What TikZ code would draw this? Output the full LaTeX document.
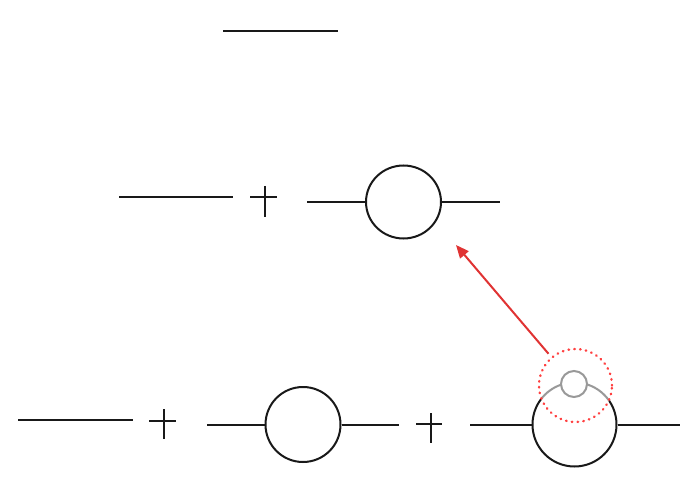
\documentclass[tikz,border=0pt]{standalone}
\usetikzlibrary{arrows.meta,shapes.geometric}
\begin{document}
\begin{tikzpicture}[x=1pt,y=-1pt,
  wire/.style={draw=black!90,line width=2pt},
  loop/.style={draw=black!90,line width=2pt,ellipse,inner sep=0pt},
  smallloop/.style={draw=black!40,line width=2pt,circle,inner sep=0pt,fill=white,minimum size=26pt},
  focus/.style={draw=red!75!white,line width=2.4pt,circle,inner sep=0pt,dash pattern=on 0.6pt off 5.2pt,line cap=round,minimum size=73pt},
  pointer/.style={draw=red!85!black!80!white,line width=2pt,-{Triangle[length=13pt,width=11pt]}}]
\useasboundingbox (0,0) rectangle (698,478);
% top
\coordinate (t1) at (223,31); \coordinate (t2) at (338,31);
\draw[wire] (t1) -- (t2);
% middle row
\coordinate (m1a) at (119,197); \coordinate (m1b) at (233,197);
\draw[wire] (m1a) -- (m1b);
\coordinate (mph1) at (250,197); \coordinate (mph2) at (277,197);
\coordinate (mpv1) at (265,186); \coordinate (mpv2) at (265,217);
\draw[wire] (mph1) -- (mph2); \draw[wire] (mpv1) -- (mpv2);
\node[loop,minimum width=75pt,minimum height=73pt] (mc) at (403.5,202) {};
\coordinate (m2a) at (307,202); \coordinate (m2b) at (500,202);
\draw[wire] (m2a) -- (mc.west); \draw[wire] (mc.east) -- (m2b);
% bottom row
\coordinate (b1a) at (18,420); \coordinate (b1b) at (133,420);
\draw[wire] (b1a) -- (b1b);
\coordinate (bp1h1) at (149,421); \coordinate (bp1h2) at (176,421);
\coordinate (bp1v1) at (164,409); \coordinate (bp1v2) at (164,439);
\draw[wire] (bp1h1) -- (bp1h2); \draw[wire] (bp1v1) -- (bp1v2);
\node[loop,minimum width=75pt,minimum height=75pt] (bc1) at (303,424.5) {};
\coordinate (b2a) at (207,424.5); \coordinate (b2b) at (399,424.5);
\draw[wire] (b2a) -- (bc1.west); \draw[wire] (bc1.east) -- (b2b);
\coordinate (bp2h1) at (416,424); \coordinate (bp2h2) at (442,424);
\coordinate (bp2v1) at (431,413); \coordinate (bp2v2) at (431,443);
\draw[wire] (bp2h1) -- (bp2h2); \draw[wire] (bp2v1) -- (bp2v2);
\node[loop,minimum width=84pt,minimum height=84pt] (bc2) at (574.5,424.5) {};
\coordinate (b3a) at (470,424.5); \coordinate (b3b) at (680,424.5);
\draw[wire] (b3a) -- (bc2.west); \draw[wire] (bc2.east) -- (b3b);
% gray part of big loop inside focus
\begin{scope}
  \clip (575.5,385.5) circle (36.5);
  \draw[white,line width=3.4pt] (574.5,424.5) circle (42);
  \draw[black!40,line width=2pt] (574.5,424.5) circle (42);
\end{scope}
\node[smallloop] (sc) at (574,384) {};
\node[focus] (dc) at (575.5,385.5) {};
% arrow
\coordinate (atip) at (456,245);
\draw[pointer,shorten <=4pt] (dc) -- (atip);
\end{tikzpicture}
\end{document}
